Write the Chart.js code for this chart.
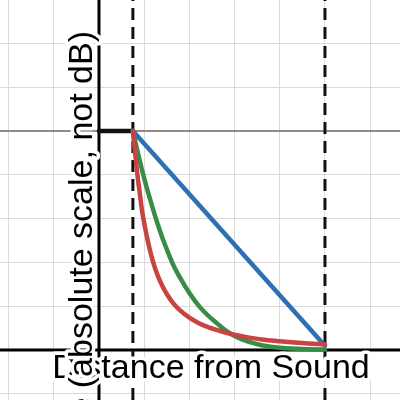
<!DOCTYPE html>
<html><head><meta charset="utf-8">
<script src="https://cdn.jsdelivr.net/npm/chart.js@4"></script>
<style>html,body{margin:0;padding:0;background:#fff}#wrap{width:400px;height:400px}</style>
</head><body><div id="wrap"><canvas id="c" width="400" height="400"></canvas></div>
<script>
// ---- data ----
const xLabel = "Distance from Sound";
const yLabel = "Amplitude (absolute scale, not dB)";
const xRange = [-2.19, 6.66];
const yRange = [-1.14, 7.99];
const xGrid = [-2, -1, 0, 1, 2, 3, 4, 5, 6];
const yGrid = [-1, 0, 1, 2, 3, 4, 5, 6, 7];
const sourceX = 0.75;
const farX = 5;
const startLevel = 5;
const flatX = [0, 0.75];
const flatY = [5, 5];
const blueX = [0.75, 5];
const blueY = [5, 0.1];
const curveX = [0.75, 0.8, 0.85, 0.9, 0.95, 1.0, 1.1, 1.2, 1.3, 1.4, 1.5, 1.65, 1.8, 2.0, 2.2, 2.4, 2.6, 2.8, 3.0, 3.3, 3.6, 4.0, 4.5, 5.0];
const redY   = [5.0, 4.5, 4.0, 3.6, 3.2, 2.9, 2.4, 2.0, 1.7, 1.47, 1.28, 1.06, 0.9, 0.74, 0.62, 0.53, 0.46, 0.40, 0.35, 0.29, 0.24, 0.20, 0.16, 0.13];
const greenY = [5.0, 4.77, 4.55, 4.33, 4.12, 3.92, 3.55, 3.2, 2.87, 2.57, 2.30, 1.93, 1.64, 1.30, 1.02, 0.80, 0.62, 0.45, 0.32, 0.19, 0.11, 0.05, 0.025, 0.01];

const pts = (xs, ys) => xs.map((x, i) => ({x, y: ys[i]}));

const base = {showLine: true, pointRadius: 0, fill: false, borderCapStyle: 'round', borderJoinStyle: 'round'};

const datasets = [
  {...base, data: pts(xRange, [0, 0]), borderColor: '#000', borderWidth: 3, order: 20, borderCapStyle: 'butt'},
  {...base, data: pts([0, 0], yRange), borderColor: '#000', borderWidth: 3, order: 20, borderCapStyle: 'butt'},
  {...base, data: pts([sourceX, sourceX], yRange), borderColor: '#111', borderWidth: 3, borderDash: [12, 7], order: 15, borderCapStyle: 'butt'},
  {...base, data: pts([farX, farX], yRange), borderColor: '#111', borderWidth: 3, borderDash: [12, 7], order: 15, borderCapStyle: 'butt'},
  {...base, data: pts(flatX, flatY), borderColor: '#111', borderWidth: 4.5, order: 10},
  {...base, data: pts(blueX, blueY), borderColor: '#2d70b3', borderWidth: 4.5, order: 5},
  {...base, data: pts(curveX, greenY), borderColor: '#388c46', borderWidth: 4.5, order: 4, cubicInterpolationMode: 'monotone'},
  {...base, data: pts(curveX, redY), borderColor: '#c74440', borderWidth: 4.5, order: 3, cubicInterpolationMode: 'monotone'}
];

const labelPlugin = {
  id: 'labels',
  afterDraw(chart) {
    const ctx = chart.ctx;
    ctx.save();
    ctx.font = '34px "Liberation Sans", Arial, sans-serif';
    ctx.lineJoin = 'round';
    ctx.textBaseline = 'alphabetic';
    // x label
    ctx.textAlign = 'center';
    ctx.strokeStyle = '#fff';
    ctx.lineWidth = 7;
    ctx.strokeText(xLabel, 211, 378);
    ctx.fillStyle = '#000';
    ctx.fillText(xLabel, 211, 378);
    // y label
    ctx.translate(92, 31);
    ctx.rotate(-Math.PI / 2);
    ctx.textAlign = 'right';
    ctx.strokeText(yLabel, 0, 0);
    ctx.fillText(yLabel, 0, 0);
    ctx.restore();
  }
};

const gridOpts = (special) => ({
  drawTicks: false,
  color: c => (c.tick && c.tick.value === special) ? '#8c8c8c' : '#dadada',
  lineWidth: c => (c.tick && c.tick.value === special) ? 2 : 1
});

new Chart(document.getElementById('c'), {
  type: 'scatter',
  data: {datasets},
  options: {
    responsive: false,
    animation: false,
    events: [],
    layout: {padding: 0},
    plugins: {legend: {display: false}, tooltip: {enabled: false}},
    scales: {
      x: {
        type: 'linear', min: xRange[0], max: xRange[1],
        afterBuildTicks: s => { s.ticks = xGrid.map(v => ({value: v})); },
        ticks: {display: false},
        border: {display: false},
        grid: gridOpts(null)
      },
      y: {
        type: 'linear', min: yRange[0], max: yRange[1],
        afterBuildTicks: s => { s.ticks = yGrid.map(v => ({value: v})); },
        ticks: {display: false},
        border: {display: false},
        grid: gridOpts(startLevel)
      }
    }
  },
  plugins: [labelPlugin]
});
</script>
</body></html>
